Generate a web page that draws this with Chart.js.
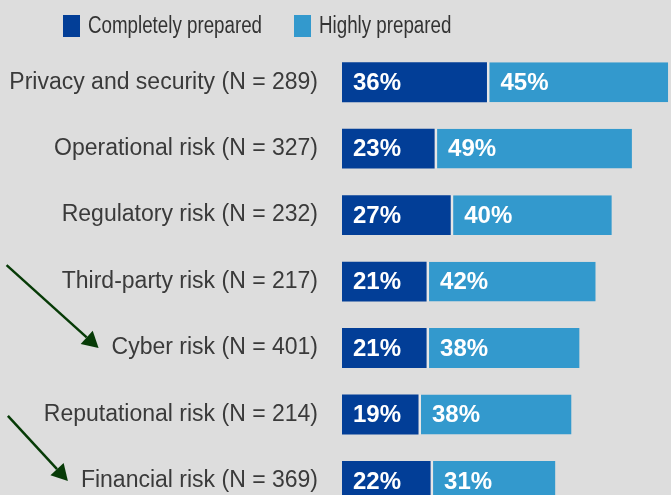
<!DOCTYPE html>
<html>
<head>
<meta charset="utf-8">
<script src="https://cdn.jsdelivr.net/npm/chart.js@4.4.1/dist/chart.umd.min.js"></script>
<style>
  html, body { margin: 0; padding: 0; background: #dddddd; overflow: hidden; }
  #wrap { position: relative; width: 671px; height: 552px; }
  #legend { position: absolute; top: 12px; left: 63px; display: flex; align-items: center;
            font-family: "Liberation Sans", Arial, sans-serif; font-size: 23px; color: #333; }
  .item { display: flex; align-items: center; margin-right: 32px; }
  .box { width: 17px; height: 22px; margin-right: 8px; }
  .item span { display: inline-block; transform: scaleX(0.815); transform-origin: 0 50%; }
</style>
</head>
<body>
<div id="wrap">
  <div id="legend"></div>
  <canvas id="chart" width="671" height="552"></canvas>
</div>
<script>
const categories = ["Privacy and security", "Operational risk", "Regulatory risk", "Third-party risk", "Cyber risk", "Reputational risk", "Financial risk"];
const respondents = [289, 327, 232, 217, 401, 214, 369];
const completely = [36, 23, 27, 21, 21, 19, 22];
const highly = [45, 49, 40, 42, 38, 38, 31];
const seriesNames = ["Completely prepared", "Highly prepared"];
const seriesColors = ["#023e97", "#3399cd"];

// arrows pointing at these categories, start offset from the tip
const arrows = [
    { category: "Cyber risk", dx: 92, dy: 83 },
    { category: "Financial risk", dx: 60, dy: 65 }
];

const labels = categories.map((c, i) => `${c} (N = ${respondents[i]})`);
const labelFont = '23px "Liberation Sans", Arial, sans-serif';
const GAP = 2.5;

// legend (text squeezed a bit, the original font is narrower)
const lg = document.getElementById("legend");
seriesNames.forEach((n, i) => {
    lg.innerHTML += `<div class="item"><div class="box" style="background:${seriesColors[i]}"></div><span>${n}</span></div>`;
});
lg.querySelectorAll("span").forEach(s => {
    s.style.marginRight = -(s.offsetWidth * (1 - 0.815)) + "px";
});

const valueLabels = {
    id: "valueLabels",
    afterDatasetsDraw(chart) {
        const ctx = chart.ctx;
        ctx.save();
        ctx.font = 'bold 24px "Liberation Sans", Arial, sans-serif';
        ctx.fillStyle = "#ffffff";
        ctx.textBaseline = "middle";
        ctx.textAlign = "left";
        chart.data.datasets.forEach((ds, di) => {
            chart.getDatasetMeta(di).data.forEach((el, i) => {
                const off = di === 0 ? 11 : 11 + GAP;
                ctx.fillText(ds.data[i] + "%", el.base + off, el.y + 1);
            });
        });
        ctx.restore();
    }
};

const arrowPlugin = {
    id: "arrows",
    afterDraw(chart) {
        const ctx = chart.ctx;
        const y = chart.scales.y;
        ctx.save();
        ctx.font = labelFont;
        arrows.forEach(a => {
            const idx = categories.indexOf(a.category);
            const w = ctx.measureText(labels[idx]).width;
            const tx = y.right - 24 - w - 13;
            const ty = y.getPixelForValue(idx);
            const sx = tx - a.dx, sy = ty - a.dy;
            const ang = Math.atan2(ty - sy, tx - sx);
            const hl = 16, hw = 9;
            const bx = tx - hl * Math.cos(ang), by = ty - hl * Math.sin(ang);
            ctx.strokeStyle = "#073b07";
            ctx.fillStyle = "#073b07";
            ctx.lineWidth = 2.5;
            ctx.beginPath();
            ctx.moveTo(sx, sy);
            ctx.lineTo(bx, by);
            ctx.stroke();
            ctx.beginPath();
            ctx.moveTo(tx, ty);
            ctx.lineTo(bx - hw * Math.sin(ang), by + hw * Math.cos(ang));
            ctx.lineTo(bx + hw * Math.sin(ang), by - hw * Math.cos(ang));
            ctx.closePath();
            ctx.fill();
        });
        ctx.restore();
    }
};

new Chart(document.getElementById("chart"), {
    type: "bar",
    data: {
        labels: labels,
        datasets: [
            { label: seriesNames[0], data: completely, backgroundColor: seriesColors[0] },
            { label: seriesNames[1], data: highly, backgroundColor: seriesColors[1],
              borderWidth: { left: GAP, right: 0, top: 0, bottom: 0 }, borderColor: "#e6e6e6", borderSkipped: false }
        ]
    },
    options: {
        indexAxis: "y",
        responsive: false,
        animation: false,
        barPercentage: 0.6,
        categoryPercentage: 1,
        layout: { padding: { top: 49, left: 0, right: 0, bottom: 0 } },
        plugins: { legend: { display: false }, tooltip: { enabled: false } },
        scales: {
            x: { stacked: true, display: false, min: 0, max: 81.7 },
            y: {
                stacked: true,
                grid: { display: false, drawTicks: false },
                border: { display: false },
                ticks: { font: { family: '"Liberation Sans", Arial, sans-serif', size: 23 }, color: "#3a3a3a", padding: 24 },
                afterFit(s) { s.width = 342; }
            }
        }
    },
    plugins: [valueLabels, arrowPlugin]
});
</script>
</body>
</html>
